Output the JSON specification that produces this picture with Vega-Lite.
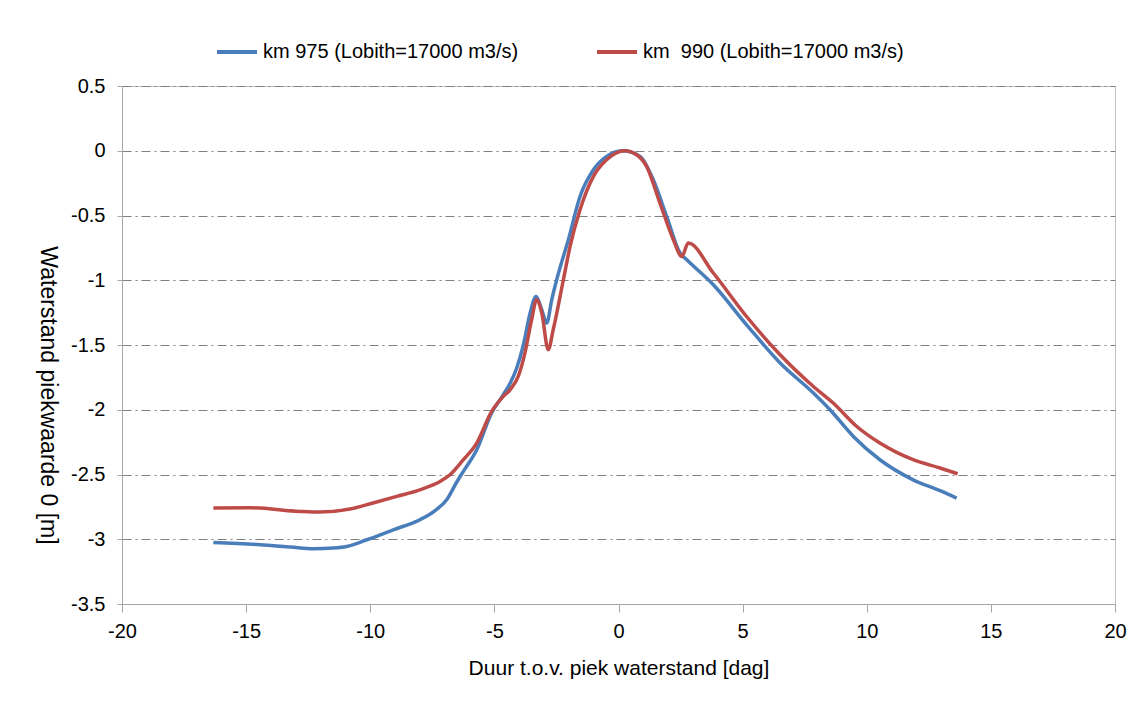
{
  "$schema": "https://vega.github.io/schema/vega-lite/v6.json",
  "width": 993,
  "height": 518,
  "autosize": "none",
  "padding": {"left": 122, "top": 86, "right": 26, "bottom": 100},
  "background": "white",
  "config": {
    "font": "Liberation Sans",
    "view": {"stroke": "#BFBFBF", "strokeWidth": 1}
  },
  "data": {
    "values": [
      {"s": "km 975 (Lobith=17000 m3/s)", "t": -16.32, "h": -3.025},
      {"s": "km 975 (Lobith=17000 m3/s)", "t": -14.44, "h": -3.042},
      {"s": "km 975 (Lobith=17000 m3/s)", "t": -13.2, "h": -3.06},
      {"s": "km 975 (Lobith=17000 m3/s)", "t": -12.29, "h": -3.073},
      {"s": "km 975 (Lobith=17000 m3/s)", "t": -11.5, "h": -3.068},
      {"s": "km 975 (Lobith=17000 m3/s)", "t": -10.95, "h": -3.056},
      {"s": "km 975 (Lobith=17000 m3/s)", "t": -10.14, "h": -3.004},
      {"s": "km 975 (Lobith=17000 m3/s)", "t": -9.07, "h": -2.927},
      {"s": "km 975 (Lobith=17000 m3/s)", "t": -8.0, "h": -2.849},
      {"s": "km 975 (Lobith=17000 m3/s)", "t": -7.4, "h": -2.78},
      {"s": "km 975 (Lobith=17000 m3/s)", "t": -6.92, "h": -2.695},
      {"s": "km 975 (Lobith=17000 m3/s)", "t": -6.52, "h": -2.56},
      {"s": "km 975 (Lobith=17000 m3/s)", "t": -6.25, "h": -2.476},
      {"s": "km 975 (Lobith=17000 m3/s)", "t": -5.71, "h": -2.309},
      {"s": "km 975 (Lobith=17000 m3/s)", "t": -5.11, "h": -2.025},
      {"s": "km 975 (Lobith=17000 m3/s)", "t": -4.64, "h": -1.884},
      {"s": "km 975 (Lobith=17000 m3/s)", "t": -4.35, "h": -1.79},
      {"s": "km 975 (Lobith=17000 m3/s)", "t": -4.1, "h": -1.678},
      {"s": "km 975 (Lobith=17000 m3/s)", "t": -3.83, "h": -1.498},
      {"s": "km 975 (Lobith=17000 m3/s)", "t": -3.56, "h": -1.253},
      {"s": "km 975 (Lobith=17000 m3/s)", "t": -3.32, "h": -1.125},
      {"s": "km 975 (Lobith=17000 m3/s)", "t": -3.09, "h": -1.228},
      {"s": "km 975 (Lobith=17000 m3/s)", "t": -2.89, "h": -1.331},
      {"s": "km 975 (Lobith=17000 m3/s)", "t": -2.69, "h": -1.151},
      {"s": "km 975 (Lobith=17000 m3/s)", "t": -2.49, "h": -0.996},
      {"s": "km 975 (Lobith=17000 m3/s)", "t": -2.02, "h": -0.687},
      {"s": "km 975 (Lobith=17000 m3/s)", "t": -1.55, "h": -0.353},
      {"s": "km 975 (Lobith=17000 m3/s)", "t": -1.01, "h": -0.147},
      {"s": "km 975 (Lobith=17000 m3/s)", "t": -0.48, "h": -0.044},
      {"s": "km 975 (Lobith=17000 m3/s)", "t": 0.15, "h": 0.0},
      {"s": "km 975 (Lobith=17000 m3/s)", "t": 0.87, "h": -0.044},
      {"s": "km 975 (Lobith=17000 m3/s)", "t": 1.4, "h": -0.224},
      {"s": "km 975 (Lobith=17000 m3/s)", "t": 1.94, "h": -0.507},
      {"s": "km 975 (Lobith=17000 m3/s)", "t": 2.48, "h": -0.79},
      {"s": "km 975 (Lobith=17000 m3/s)", "t": 2.75, "h": -0.842},
      {"s": "km 975 (Lobith=17000 m3/s)", "t": 3.82, "h": -1.035},
      {"s": "km 975 (Lobith=17000 m3/s)", "t": 5.16, "h": -1.344},
      {"s": "km 975 (Lobith=17000 m3/s)", "t": 6.51, "h": -1.639},
      {"s": "km 975 (Lobith=17000 m3/s)", "t": 7.85, "h": -1.871},
      {"s": "km 975 (Lobith=17000 m3/s)", "t": 8.52, "h": -2.0},
      {"s": "km 975 (Lobith=17000 m3/s)", "t": 9.46, "h": -2.206},
      {"s": "km 975 (Lobith=17000 m3/s)", "t": 10.53, "h": -2.386},
      {"s": "km 975 (Lobith=17000 m3/s)", "t": 11.87, "h": -2.541},
      {"s": "km 975 (Lobith=17000 m3/s)", "t": 12.95, "h": -2.625},
      {"s": "km 975 (Lobith=17000 m3/s)", "t": 13.62, "h": -2.682},
      {"s": "km\u00a0 990 (Lobith=17000 m3/s)", "t": -16.32, "h": -2.759},
      {"s": "km\u00a0 990 (Lobith=17000 m3/s)", "t": -14.8, "h": -2.757},
      {"s": "km\u00a0 990 (Lobith=17000 m3/s)", "t": -12.83, "h": -2.785},
      {"s": "km\u00a0 990 (Lobith=17000 m3/s)", "t": -12.02, "h": -2.79},
      {"s": "km\u00a0 990 (Lobith=17000 m3/s)", "t": -10.82, "h": -2.767},
      {"s": "km\u00a0 990 (Lobith=17000 m3/s)", "t": -9.89, "h": -2.72},
      {"s": "km\u00a0 990 (Lobith=17000 m3/s)", "t": -8.93, "h": -2.669},
      {"s": "km\u00a0 990 (Lobith=17000 m3/s)", "t": -8.0, "h": -2.618},
      {"s": "km\u00a0 990 (Lobith=17000 m3/s)", "t": -7.19, "h": -2.554},
      {"s": "km\u00a0 990 (Lobith=17000 m3/s)", "t": -6.79, "h": -2.502},
      {"s": "km\u00a0 990 (Lobith=17000 m3/s)", "t": -6.25, "h": -2.386},
      {"s": "km\u00a0 990 (Lobith=17000 m3/s)", "t": -5.71, "h": -2.257},
      {"s": "km\u00a0 990 (Lobith=17000 m3/s)", "t": -5.11, "h": -2.013},
      {"s": "km\u00a0 990 (Lobith=17000 m3/s)", "t": -4.64, "h": -1.897},
      {"s": "km\u00a0 990 (Lobith=17000 m3/s)", "t": -4.37, "h": -1.846},
      {"s": "km\u00a0 990 (Lobith=17000 m3/s)", "t": -4.04, "h": -1.743},
      {"s": "km\u00a0 990 (Lobith=17000 m3/s)", "t": -3.77, "h": -1.562},
      {"s": "km\u00a0 990 (Lobith=17000 m3/s)", "t": -3.5, "h": -1.305},
      {"s": "km\u00a0 990 (Lobith=17000 m3/s)", "t": -3.3, "h": -1.151},
      {"s": "km\u00a0 990 (Lobith=17000 m3/s)", "t": -3.09, "h": -1.253},
      {"s": "km\u00a0 990 (Lobith=17000 m3/s)", "t": -2.83, "h": -1.537},
      {"s": "km\u00a0 990 (Lobith=17000 m3/s)", "t": -2.63, "h": -1.382},
      {"s": "km\u00a0 990 (Lobith=17000 m3/s)", "t": -2.22, "h": -0.996},
      {"s": "km\u00a0 990 (Lobith=17000 m3/s)", "t": -1.95, "h": -0.739},
      {"s": "km\u00a0 990 (Lobith=17000 m3/s)", "t": -1.55, "h": -0.456},
      {"s": "km\u00a0 990 (Lobith=17000 m3/s)", "t": -1.01, "h": -0.198},
      {"s": "km\u00a0 990 (Lobith=17000 m3/s)", "t": -0.48, "h": -0.07},
      {"s": "km\u00a0 990 (Lobith=17000 m3/s)", "t": 0.25, "h": 0.0},
      {"s": "km\u00a0 990 (Lobith=17000 m3/s)", "t": 0.73, "h": -0.031},
      {"s": "km\u00a0 990 (Lobith=17000 m3/s)", "t": 1.13, "h": -0.121},
      {"s": "km\u00a0 990 (Lobith=17000 m3/s)", "t": 1.67, "h": -0.404},
      {"s": "km\u00a0 990 (Lobith=17000 m3/s)", "t": 2.21, "h": -0.687},
      {"s": "km\u00a0 990 (Lobith=17000 m3/s)", "t": 2.55, "h": -0.816},
      {"s": "km\u00a0 990 (Lobith=17000 m3/s)", "t": 2.81, "h": -0.713},
      {"s": "km\u00a0 990 (Lobith=17000 m3/s)", "t": 3.82, "h": -0.944},
      {"s": "km\u00a0 990 (Lobith=17000 m3/s)", "t": 5.16, "h": -1.28},
      {"s": "km\u00a0 990 (Lobith=17000 m3/s)", "t": 6.51, "h": -1.575},
      {"s": "km\u00a0 990 (Lobith=17000 m3/s)", "t": 7.85, "h": -1.82},
      {"s": "km\u00a0 990 (Lobith=17000 m3/s)", "t": 8.65, "h": -1.948},
      {"s": "km\u00a0 990 (Lobith=17000 m3/s)", "t": 9.6, "h": -2.129},
      {"s": "km\u00a0 990 (Lobith=17000 m3/s)", "t": 10.53, "h": -2.257},
      {"s": "km\u00a0 990 (Lobith=17000 m3/s)", "t": 11.87, "h": -2.386},
      {"s": "km\u00a0 990 (Lobith=17000 m3/s)", "t": 12.95, "h": -2.45},
      {"s": "km\u00a0 990 (Lobith=17000 m3/s)", "t": 13.66, "h": -2.494}
    ]
  },
  "mark": {"type": "line", "interpolate": "monotone", "strokeWidth": 3.5},
  "encoding": {
    "x": {
      "field": "t",
      "type": "quantitative",
      "scale": {"domain": [-20, 20], "nice": false, "zero": false},
      "axis": {
        "values": [-20, -15, -10, -5, 0, 5, 10, 15, 20],
        "grid": false,
        "title": "Duur t.o.v. piek waterstand [dag]",
        "titleFontSize": 21,
        "titleFontWeight": "normal",
        "titleColor": "#000000",
        "titleY": 64,
        "titleBaseline": "middle",
        "labelFontSize": 20,
        "labelColor": "#000000",
        "labelPadding": 9,
        "labelFlush": false,
        "labelExpr": "'' + datum.value",
        "domainColor": "#A6A6A6",
        "tickColor": "#A6A6A6",
        "tickSize": 8
      }
    },
    "y": {
      "field": "h",
      "type": "quantitative",
      "scale": {"domain": [-3.5, 0.5], "nice": false, "zero": false},
      "axis": {
        "values": [-3.5, -3, -2.5, -2, -1.5, -1, -0.5, 0, 0.5],
        "grid": true,
        "gridColor": "#808080",
        "gridDash": [9, 4, 2, 4],
        "gridWidth": 1,
        "title": "Waterstand piekwaarde 0 [m]",
        "titleFontSize": 23,
        "titleFontWeight": "normal",
        "titleColor": "#000000",
        "titleAngle": 90,
        "titleX": -75,
        "titleY": 309,
        "titleAlign": "center",
        "titleBaseline": "middle",
        "labelFontSize": 20,
        "labelColor": "#000000",
        "labelPadding": 12,
        "labelFlush": false,
        "labelExpr": "'' + datum.value",
        "domainColor": "#A6A6A6",
        "tickColor": "#A6A6A6",
        "tickSize": 5
      }
    },
    "color": {
      "field": "s",
      "type": "nominal",
      "scale": {
        "domain": ["km 975 (Lobith=17000 m3/s)", "km\u00a0 990 (Lobith=17000 m3/s)"],
        "range": ["#4A7EBB", "#BE4B48"]
      },
      "legend": {
        "title": null,
        "orient": "none",
        "legendX": 93,
        "legendY": -56,
        "direction": "horizontal",
        "symbolType": "stroke",
        "symbolSize": 1600,
        "symbolStrokeWidth": 4,
        "labelFontSize": 20,
        "labelColor": "#000000",
        "labelOffset": 4,
        "labelLimit": 400,
        "columnPadding": 70
      }
    }
  }
}
